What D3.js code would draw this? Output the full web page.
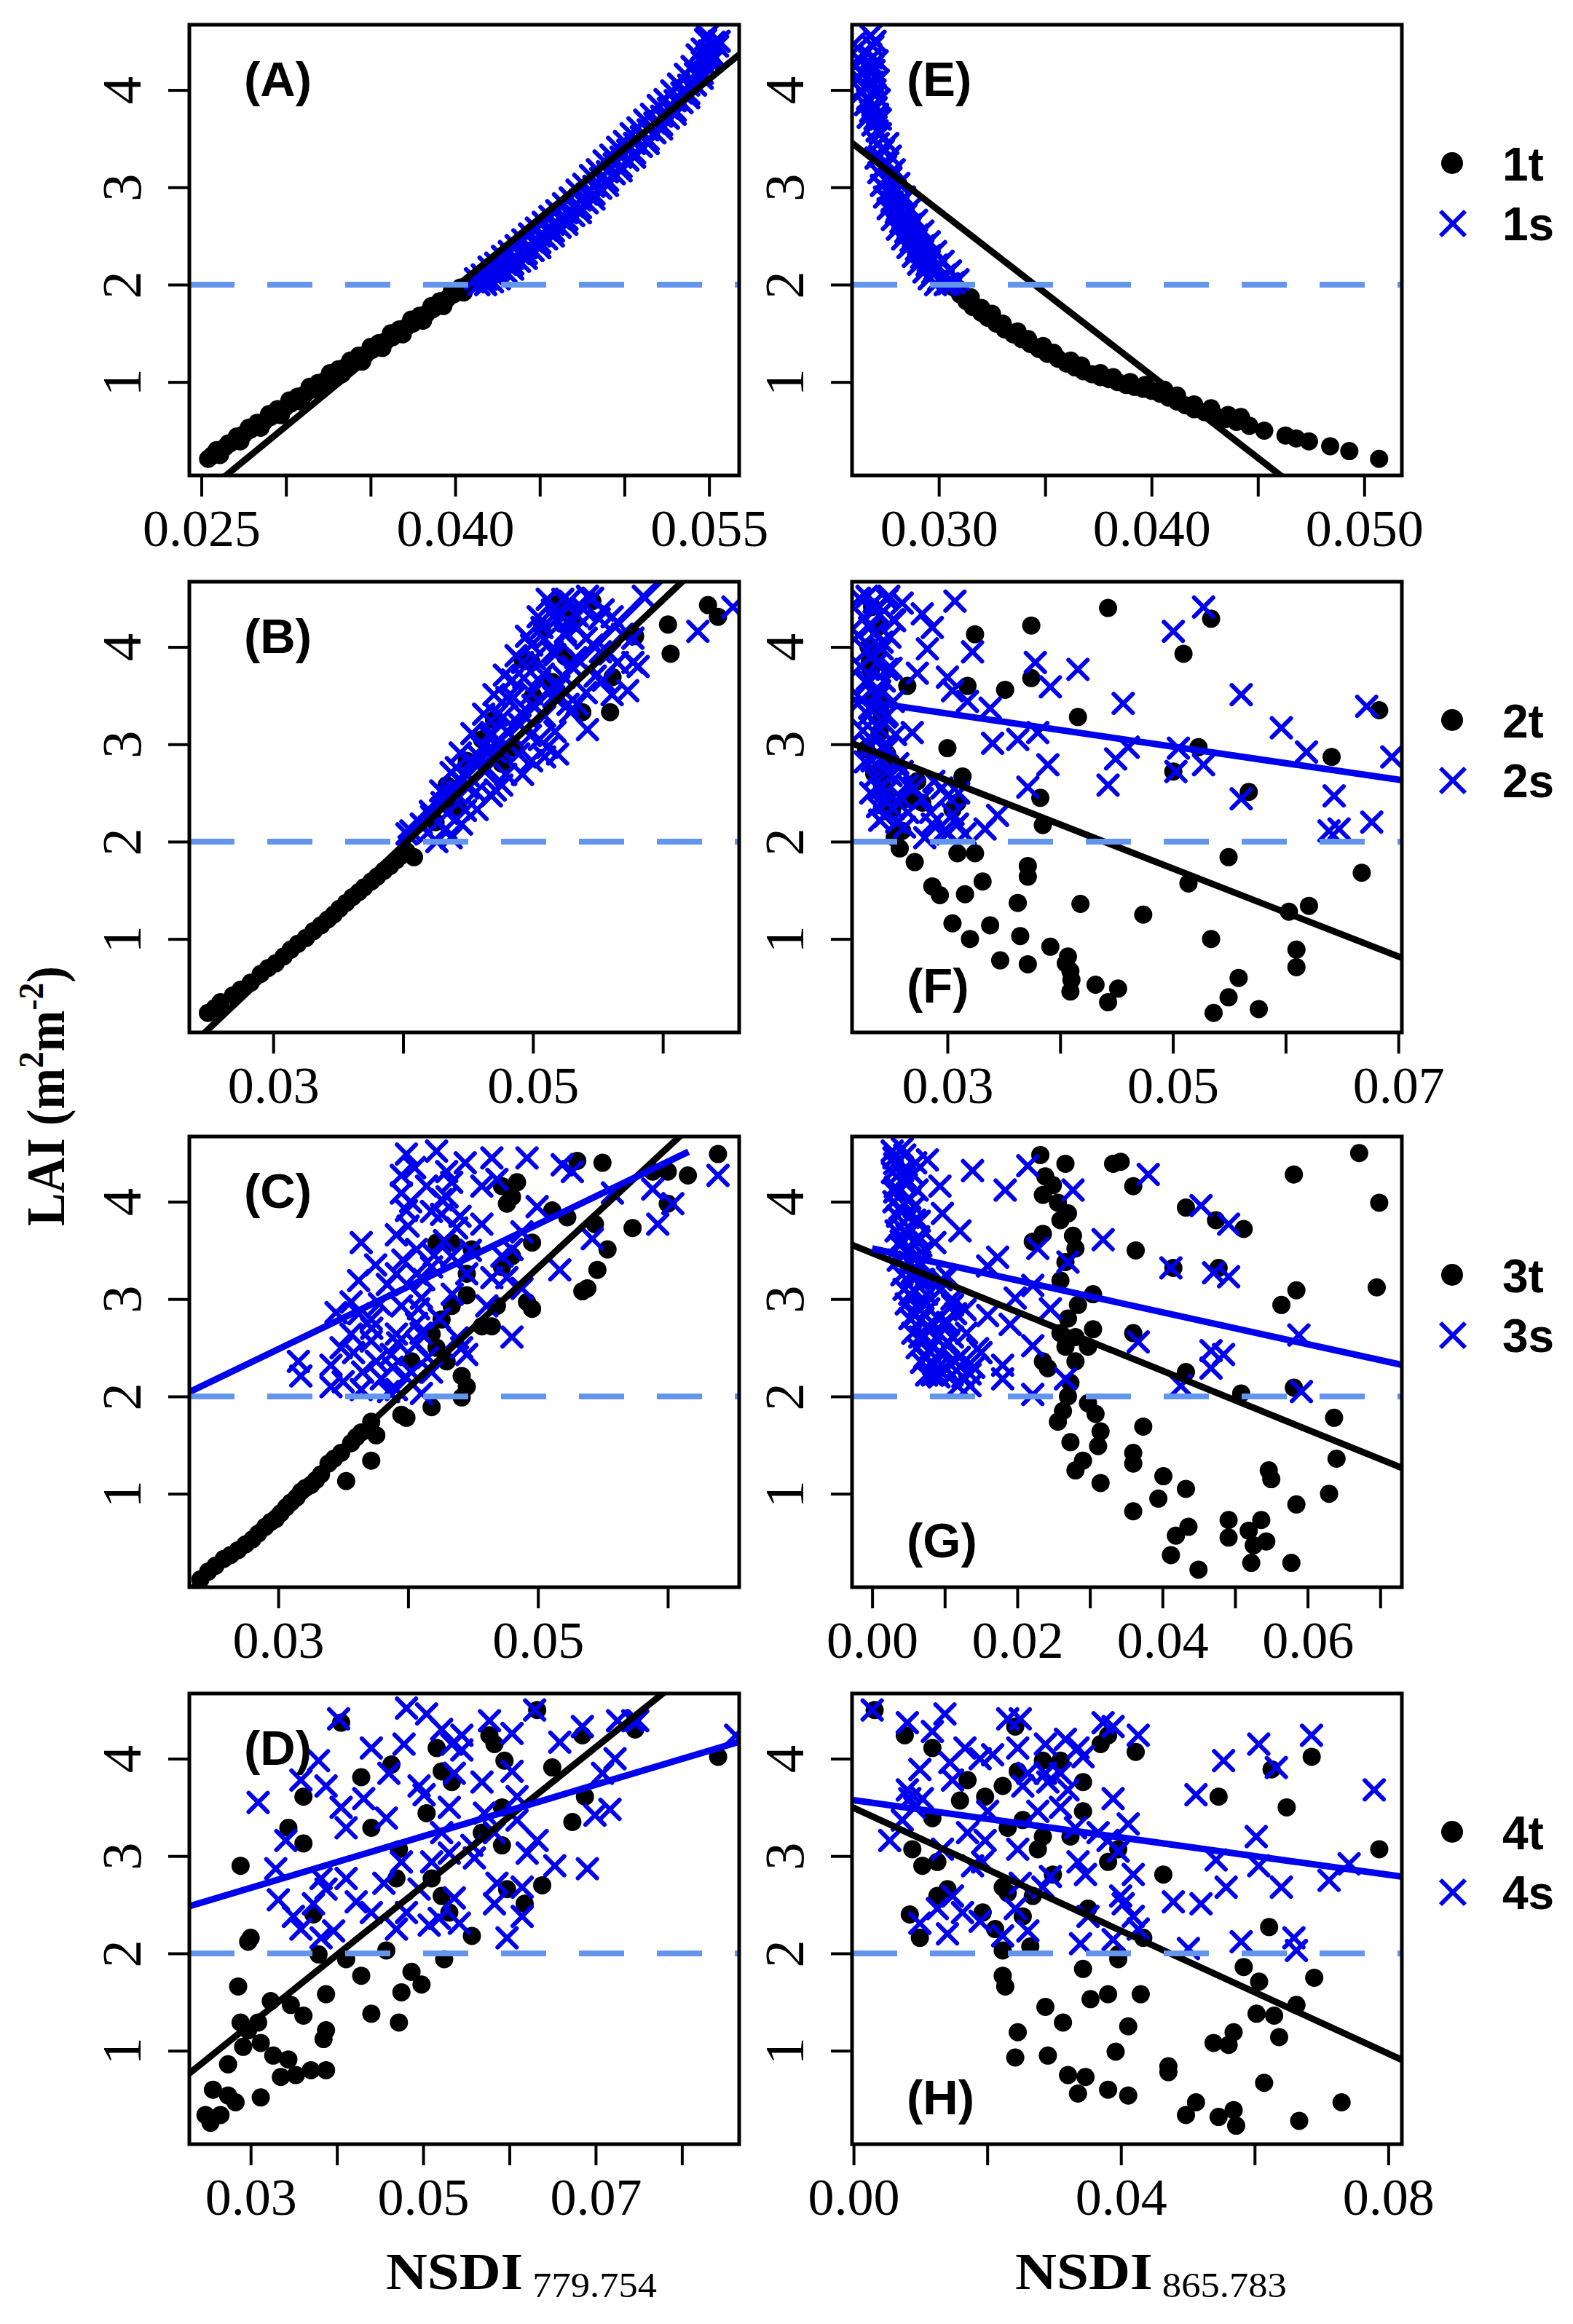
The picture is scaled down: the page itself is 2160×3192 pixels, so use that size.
<!DOCTYPE html>
<html>
<head>
<meta charset="utf-8">
<script src="https://cdn.jsdelivr.net/npm/d3@7"></script>
<style>
  body { margin: 0; background: #fff; }
  svg { display: block; }
</style>
</head>
<body>
<div id="chart"></div>
<script>
// ---------- data ----------
var yDomain = [0.04, 4.67];
var yTicks = [1, 2, 3, 4];
var cutoff = 2;

var legendT = ["1t", "2t", "3t", "4t"];
var legendS = ["1s", "2s", "3s", "4s"];

var xDomA = [0.02429, 0.05678], ticksA = [0.025, 0.030, 0.035, 0.040, 0.045, 0.050, 0.055], labA = ["0.025", "0.040", "0.055"];
var xDomE = [0.02592, 0.05177], ticksE = [0.030, 0.035, 0.040, 0.045, 0.050], labE = ["0.030", "0.040", "0.050"];
var xDomB = [0.02354, 0.06588], ticksB = [0.03, 0.04, 0.05, 0.06], labB = ["0.03", "0.05"];
var xDomF = [0.02154, 0.07031], ticksF = [0.03, 0.04, 0.05, 0.06, 0.07], labF = ["0.03", "0.05", "0.07"];
var xDomC = [0.02315, 0.0655], ticksC = [0.03, 0.04, 0.05, 0.06], labC = ["0.03", "0.05"];
var xDomG = [-0.00277, 0.07298], ticksG = [0, 0.01, 0.02, 0.03, 0.04, 0.05, 0.06, 0.07], labG = ["0.00", "0.02", "0.04", "0.06"];
var xDomD = [0.02289, 0.08664], ticksD = [0.03, 0.04, 0.05, 0.06, 0.07, 0.08], labD = ["0.03", "0.05", "0.07"];
var xDomH = [-0.00023, 0.08203], ticksH = [0, 0.02, 0.04, 0.06, 0.08], labH = ["0.00", "0.04", "0.08"];

// fitted lines: [intercept, slope, xFrom, xTo] (null = whole axis)
var fitA_t = [-3.733, 142.6, null, null];
var fitE_t = [7.848, -169.5, null, null];
var fitB_t = [-3.078, 126.0, null, null], fitB_s = [-3.218, 132.0, 0.0397, null];
var fitF_t = [3.984, -45.2, null, null], fitF_s = [3.826, -17.0, null, null];
var fitC_t = [-2.859, 123.6, null, null], fitC_s = [0.559, 64.2, null, 0.0616];
var fitG_t = [3.473, -30.25, null, null], fitG_s = [3.52, -16.39, 0.0, null];
var fitD_t = [-0.859, 71.08, null, null], fitD_s = [1.879, 26.48, null, null];
var fitH_t = [3.495, -31.56, null, null], fitH_s = [3.574, -9.58, null, null];

var ptsA_t = [[0.0254,0.21],[0.0257,0.25],[0.0260,0.29],[0.0264,0.33],[0.0267,0.37],[0.0271,0.42],[0.0275,0.46],[0.0279,0.51],[0.0283,0.55],[0.0287,0.59],[0.0291,0.64],[0.0295,0.68],[0.0299,0.73],[0.0303,0.78],[0.0307,0.82],[0.0311,0.87],[0.0315,0.92],[0.0319,0.96],[0.0323,1.01],[0.0327,1.05],[0.0331,1.10],[0.0335,1.15],[0.0339,1.19],[0.0343,1.24],[0.0347,1.28],[0.0351,1.33],[0.0355,1.37],[0.0359,1.42],[0.0363,1.46],[0.0367,1.51],[0.0371,1.56],[0.0375,1.60],[0.0379,1.65],[0.0383,1.70],[0.0387,1.75],[0.0391,1.80],[0.0395,1.85],[0.0399,1.90],[0.0403,1.95],[0.0407,1.99],
  [0.0261,0.25],[0.0273,0.39],[0.0285,0.53],[0.0297,0.66],[0.0309,0.80],[0.0321,0.94],[0.0333,1.08],[0.0345,1.21],[0.0357,1.35],[0.0369,1.49],[0.0381,1.63],[0.0393,1.78],[0.0405,1.92],
  [0.0256,0.24],[0.0266,0.37],[0.0278,0.53],[0.0290,0.67],[0.0302,0.81],[0.0314,0.95],[0.0326,1.09],[0.0338,1.22],[0.0350,1.36],[0.0362,1.50],[0.0374,1.64],[0.0386,1.78],[0.0398,1.93],
  [0.0259,0.30],[0.0271,0.44],[0.0283,0.58],[0.0295,0.72],[0.0307,0.85],[0.0319,0.99],[0.0331,1.13],[0.0343,1.27],[0.0355,1.40],[0.0367,1.54],[0.0379,1.68],[0.0391,1.83],[0.0403,1.97]];
var ptsA_s = [[0.0414,2.00],[0.0418,2.05],[0.0422,2.11],[0.0426,2.16],[0.0430,2.21],[0.0434,2.27],[0.0438,2.32],[0.0442,2.38],[0.0446,2.44],[0.0450,2.50],[0.0454,2.56],[0.0458,2.62],[0.0462,2.68],[0.0466,2.74],[0.0470,2.80],[0.0474,2.87],[0.0478,2.93],[0.0482,3.01],[0.0486,3.09],[0.0490,3.16],[0.0494,3.24],[0.0498,3.31],[0.0502,3.38],[0.0506,3.45],[0.0510,3.52],[0.0514,3.59],[0.0518,3.66],[0.0522,3.73],[0.0526,3.81],[0.0530,3.89],[0.0534,3.97],[0.0538,4.05],[0.0542,4.17],[0.0546,4.29],[0.0550,4.40],[0.0553,4.49],
  [0.0422,2.03],[0.0430,2.13],[0.0438,2.24],[0.0446,2.35],[0.0454,2.47],[0.0462,2.59],[0.0470,2.71],[0.0478,2.84],[0.0486,2.99],[0.0494,3.14],[0.0502,3.28],[0.0510,3.42],[0.0518,3.56],[0.0526,3.71],[0.0534,3.87],[0.0542,4.05],[0.0550,4.30],[0.0555,4.45],
  [0.0412,2.06],[0.0420,2.18],[0.0428,2.29],[0.0436,2.40],[0.0444,2.52],[0.0452,2.64],[0.0460,2.76],[0.0468,2.89],[0.0476,3.03],[0.0484,3.18],[0.0492,3.33],[0.0500,3.47],[0.0508,3.61],[0.0516,3.75],[0.0524,3.90],[0.0532,4.06],[0.0540,4.24],[0.0546,4.42],[0.0549,4.56],
  [0.0426,2.10],[0.0434,2.21],[0.0442,2.32],[0.0450,2.43],[0.0458,2.55],[0.0466,2.67],[0.0474,2.79],[0.0482,2.93],[0.0490,3.07],[0.0498,3.21],[0.0506,3.35],[0.0514,3.49],[0.0522,3.64],[0.0530,3.79],[0.0538,3.96],[0.0546,4.17],[0.0552,4.36],
  [0.0418,2.00],[0.0426,2.06],[0.0434,2.16],[0.0442,2.27],[0.0450,2.38],[0.0458,2.50],[0.0466,2.62],[0.0474,2.74],[0.0482,2.88],[0.0490,3.02],[0.0498,3.17],[0.0506,3.31],[0.0514,3.45],[0.0522,3.60],[0.0530,3.75],[0.0538,3.92],[0.0546,4.12],[0.0552,4.30],[0.0556,4.50],
  [0.0416,2.10],[0.0424,2.22],[0.0432,2.34],[0.0440,2.46],[0.0448,2.58],[0.0456,2.70],[0.0464,2.83],[0.0472,2.97],[0.0480,3.12],[0.0488,3.27],[0.0496,3.41],[0.0504,3.55],[0.0512,3.69],[0.0520,3.84],[0.0528,3.99],[0.0536,4.16],[0.0543,4.36],[0.0548,4.52]];

var ptsE_t = [[0.03070,1.97],[0.03100,1.90],[0.03130,1.83],[0.03160,1.77],[0.03200,1.71],[0.03230,1.66],[0.03270,1.60],[0.03310,1.54],[0.03350,1.49],[0.03390,1.44],[0.03430,1.39],[0.03470,1.34],[0.03510,1.29],[0.03560,1.24],[0.03600,1.19],[0.03640,1.15],[0.03680,1.11],[0.03720,1.08],[0.03760,1.05],[0.03800,1.03],[0.03840,1.00],[0.03880,0.97],[0.03920,0.95],[0.03960,0.93],[0.04000,0.91],[0.04040,0.88],[0.04080,0.84],[0.04120,0.80],[0.04160,0.76],[0.04200,0.72],[0.04250,0.69],[0.04300,0.65],[0.04350,0.62],[0.04400,0.59],[0.04460,0.55],[0.04530,0.50],[0.04630,0.45],[0.04680,0.42],[0.04740,0.39],[0.04840,0.34],[0.04930,0.29],[0.05070,0.21],
  [0.03150,1.87],[0.03250,1.70],[0.03370,1.52],[0.03490,1.37],[0.03620,1.22],[0.03760,1.09],[0.03900,1.00],[0.04060,0.92],[0.04200,0.77],[0.04360,0.66],
  [0.03100,1.95],[0.03200,1.76],[0.03300,1.60],[0.03420,1.44],[0.03540,1.30],[0.03670,1.17],[0.03820,1.05],[0.03970,0.97],[0.04120,0.86],[0.04280,0.73],[0.04420,0.64]];
var ptsE_s = [[0.02680,4.56],[0.02690,4.45],[0.02685,4.33],[0.02695,4.20],[0.02690,4.08],[0.02700,3.95],[0.02705,3.82],[0.02700,3.70],[0.02710,3.58],
  [0.02595,4.38],[0.02610,4.25],[0.02625,4.12],[0.02640,3.98],[0.02655,3.85],[0.02668,3.72],
  [0.02715,3.45],[0.02722,3.32],[0.02735,3.20],[0.02748,3.08],[0.02762,2.96],[0.02780,2.85],[0.02800,2.74],[0.02822,2.64],[0.02845,2.54],[0.02870,2.45],[0.02895,2.36],[0.02920,2.28],[0.02945,2.20],[0.02972,2.12],[0.03000,2.05],[0.03030,2.00],
  [0.02740,3.40],[0.02755,3.25],[0.02775,3.10],[0.02795,2.97],[0.02820,2.84],[0.02845,2.72],[0.02870,2.62],[0.02900,2.51],[0.02930,2.40],[0.02960,2.30],[0.02990,2.20],[0.03030,2.10],[0.03070,2.02],
  [0.02705,3.30],[0.02718,3.15],[0.02730,3.02],[0.02745,2.90],[0.02762,2.78],[0.02782,2.67],[0.02805,2.57],[0.02830,2.47],[0.02855,2.38],[0.02880,2.29],[0.02905,2.21],[0.02930,2.13],[0.02955,2.06],[0.02985,2.00],
  [0.02760,3.45],[0.02772,3.32],[0.02790,3.18],[0.02812,3.04],[0.02838,2.90],[0.02865,2.78],[0.02895,2.66],[0.02925,2.55],[0.02955,2.44],[0.02985,2.34],[0.03020,2.24],[0.03055,2.14],[0.03090,2.05],
  [0.02700,4.50],[0.02710,4.30],[0.02715,4.10],[0.02720,3.90],[0.02725,3.70],[0.02600,4.47],[0.02620,4.32],[0.02635,4.18],[0.02650,4.03],[0.02665,3.90],[0.02680,3.78],[0.02690,3.64],
  [0.02690,4.25],[0.02700,4.00],[0.02712,3.75],[0.02725,3.55],[0.02738,3.38],[0.02750,3.22],[0.02765,3.08],[0.02785,2.93],[0.02808,2.80],[0.02832,2.68],[0.02860,2.56],[0.02890,2.45],[0.02920,2.34],[0.02950,2.24],[0.02980,2.15],[0.03010,2.07],[0.03045,2.01]];

var ptsB_t = [[0.02497,0.24],[0.02594,0.35],[0.02690,0.42],[0.02826,0.55],[0.02903,0.64],[0.03019,0.75],[0.03135,0.89],[0.03252,1.01],[0.03368,1.14],[0.03465,1.25],[0.03561,1.37],[0.03658,1.48],[0.03755,1.59],[0.03852,1.70],[0.03948,1.81],[0.04026,1.90],[0.04084,1.84],
  [0.02550,0.29],[0.02750,0.48],[0.02960,0.70],[0.03080,0.82],[0.03190,0.95],[0.03310,1.08],[0.03420,1.20],[0.03510,1.31],[0.03610,1.43],[0.03700,1.53],[0.03800,1.64],[0.03900,1.75],[0.03990,1.86],
  [0.05458,4.47],[0.05787,4.11],[0.0604,4.23],[0.0606,3.93],[0.06348,4.43],[0.06425,4.31],[0.05148,3.64],[0.05613,3.69],[0.05594,3.33],[0.0538,3.33],[0.04858,2.96],[0.04761,2.80],[0.04607,3.05],[0.0449,2.83],[0.04336,2.58],[0.0507,4.20],[0.0499,3.84],[0.0492,3.87],[0.0442,2.35],[0.0425,2.20],[0.0470,3.25],[0.0500,3.50],[0.0525,3.90],[0.0530,4.30],[0.0520,4.45]];
var ptsB_s = [[0.0403,2.08],[0.0414,2.18],[0.0422,2.26],[0.0430,2.40],[0.0437,2.47],[0.0445,2.62],[0.0441,2.76],[0.0453,2.83],[0.0461,2.97],[0.0468,3.12],[0.0472,3.30],[0.0480,3.48],[0.0484,3.66],[0.0492,3.84],[0.0499,4.02],[0.0507,4.20],[0.0515,4.38],[0.0523,4.49],[0.0542,4.52],[0.0554,4.38],[0.0561,4.31],[0.0577,4.09],[0.0585,4.52],[0.0565,3.84],[0.0577,3.84],[0.0581,3.80],[0.0573,3.55],[0.0561,3.51],[0.0542,3.15],[0.0534,3.41],[0.0527,3.41],[0.0519,2.90],[0.0511,2.97],[0.0499,2.83],[0.0492,2.69],[0.0476,2.58],[0.0468,2.47],[0.0457,2.33],[0.0445,2.18],[0.0437,2.04],[0.0426,2.00],[0.0627,4.16],[0.0654,4.41],[0.0546,4.02],[0.0534,4.20],[0.0527,4.27],
  [0.0450,2.55],[0.0465,2.75],[0.0475,2.95],[0.0490,3.20],[0.0500,3.40],[0.0505,3.65],[0.0515,3.95],[0.0525,4.15],[0.0520,3.60],[0.0530,3.80],[0.0548,3.70],[0.0552,3.95],[0.0538,4.40],[0.0505,3.05],
  [0.0406,2.11],[0.0419,2.09],[0.0433,2.13],[0.0421,2.31],[0.0434,2.29],[0.0448,2.32],[0.0429,2.52],[0.0441,2.49],[0.0456,2.51],[0.0471,2.53],[0.0437,2.71],[0.0450,2.68],[0.0463,2.72],[0.0479,2.69],[0.0444,2.91],[0.0458,2.88],[0.0471,2.92],[0.0489,2.90],[0.0509,2.87],[0.0453,3.11],[0.0467,3.08],[0.0481,3.12],[0.0498,3.09],[0.0517,3.13],[0.0462,3.31],[0.0477,3.28],[0.0491,3.32],[0.0509,3.29],[0.0529,3.33],[0.0470,3.51],[0.0485,3.48],[0.0499,3.52],[0.0516,3.49],[0.0541,3.53],[0.0478,3.71],[0.0493,3.68],[0.0508,3.72],[0.0524,3.69],[0.0554,3.66],[0.0487,3.91],[0.0501,3.88],[0.0517,3.92],[0.0533,3.89],[0.0559,3.93],[0.0495,4.11],[0.0509,4.08],[0.0525,4.12],[0.0541,4.09],[0.0569,4.13],[0.0504,4.31],[0.0518,4.28],[0.0534,4.32],[0.0551,4.29],[0.0511,4.49],[0.0528,4.47],[0.0546,4.50]];

var ptsF_t = [[0.04425,4.40],[0.03744,4.22],[0.03245,4.13],[0.05094,3.93],[0.05339,4.29],[0.03744,3.68],[0.03178,3.60],[0.03512,3.56],[0.02644,3.60],[0.04158,3.28],[0.0300,2.96],[0.03134,2.67],[0.03824,2.45],[0.03846,2.17],[0.03089,1.88],[0.03245,1.88],[0.02710,1.79],[0.02577,1.93],[0.02532,2.04],[0.03713,1.75],[0.03713,1.64],[0.05494,1.84],[0.06675,1.68],[0.03312,1.59],[0.02866,1.54],[0.02933,1.45],[0.03156,1.46],[0.03624,1.37],[0.04180,1.36],[0.04737,1.25],[0.05138,1.57],[0.06029,1.28],[0.06207,1.34],[0.03045,1.16],[0.03200,1.00],[0.03379,1.14],[0.03646,1.03],[0.03468,0.78],[0.03713,0.74],[0.03913,0.92],[0.04069,0.82],[0.04091,0.67],[0.04091,0.46],[0.04314,0.53],[0.04514,0.49],[0.04425,0.35],[0.05339,1.00],[0.06096,0.89],[0.06096,0.71],[0.05583,0.60],[0.05494,0.40],[0.05361,0.24],[0.05762,0.28],[0.05227,2.97],[0.06408,2.87],[0.05673,2.51],[0.0683,3.35],[0.05004,2.72],[0.02332,4.41],[0.02376,4.20],[0.02310,3.84],[0.02354,3.48],[0.02399,3.12],[0.02465,2.90],[0.02421,2.58],[0.02510,2.33],[0.02599,2.11],[0.02733,2.62],[0.02777,2.40],[0.02644,2.44],[0.03045,2.33],[0.03089,2.40],[0.0230,4.00],[0.0242,3.30],[0.0246,2.75],[0.0410,0.58],[0.0405,0.75],
  [0.0228,2.95],[0.0235,2.70],[0.0240,3.40],[0.0232,3.75],[0.0245,2.45],[0.0238,3.95]];
var ptsF_s = [[0.02287,4.52],[0.02354,4.38],[0.02465,4.49],[0.02599,4.45],[0.02310,4.20],[0.02421,4.05],[0.02532,4.27],[0.02332,3.91],[0.02465,3.77],[0.02287,3.66],[0.02399,3.55],[0.02310,3.37],[0.02465,3.30],[0.02354,3.12],[0.02421,2.97],[0.02332,2.83],[0.02465,2.72],[0.02399,2.54],[0.02465,2.40],[0.02443,2.26],[0.02599,2.72],[0.02644,2.58],[0.02688,3.12],[0.02777,4.34],[0.02866,4.20],[0.03067,4.47],[0.02822,3.98],[0.02733,3.73],[0.0300,3.69],[0.03045,3.55],[0.03223,3.95],[0.03178,3.44],[0.03379,3.37],[0.03401,3.01],[0.03624,3.05],[0.03780,3.84],[0.03913,3.59],[0.04158,3.77],[0.03891,2.79],[0.03713,2.56],[0.03445,2.27],[0.03334,2.13],[0.02777,2.44],[0.02866,2.18],[0.02799,2.04],[0.0300,2.47],[0.03089,2.18],[0.0300,2.08],[0.03156,2.08],[0.04425,2.58],[0.04492,2.85],[0.04559,3.42],[0.04604,2.97],[0.05027,2.72],[0.05004,4.16],[0.05272,4.41],[0.05049,2.96],[0.05272,2.79],[0.05606,3.51],[0.05606,2.44],[0.05962,3.17],[0.06185,2.92],[0.06430,2.47],[0.06385,2.11],[0.06474,2.13],[0.06764,2.20],[0.06719,3.39],[0.06942,2.87],[0.03802,3.12],
  [0.0222,4.50],[0.0235,4.46],[0.0248,4.52],[0.0226,4.30],[0.0240,4.33],[0.0252,4.28],[0.0221,4.12],[0.0236,4.15],[0.0249,4.10],[0.0228,3.96],[0.0242,3.98],[0.0223,3.80],[0.0237,3.83],[0.0250,3.78],[0.0229,3.62],[0.0244,3.65],[0.0224,3.46],[0.0238,3.48],[0.0252,3.44],[0.0230,3.30],[0.0245,3.28],[0.0225,3.14],[0.0240,3.16],[0.0254,3.10],[0.0232,2.98],[0.0247,2.96],[0.0227,2.82],[0.0242,2.84],[0.0256,2.80],[0.0235,2.66],[0.0250,2.68],[0.0232,2.50],[0.0246,2.52],[0.0258,2.46],[0.0238,2.36],[0.0252,2.34],[0.0240,2.22],[0.0255,2.20],[0.0265,2.30],[0.0270,2.55],[0.0262,2.15],
  [0.0285,2.30],[0.0295,2.55],[0.0288,2.62],[0.0305,2.28],[0.0310,2.50],[0.0298,2.12]];

var ptsC_t = [[0.0240,0.12],[0.02516,0.26],[0.02632,0.37],[0.02748,0.48],[0.02845,0.59],[0.02942,0.71],[0.03019,0.80],[0.03097,0.91],[0.03174,1.02],[0.03252,1.09],[0.03329,1.20],[0.03387,1.31],[0.03484,1.42],[0.03561,1.52],[0.03639,1.63],[0.03716,1.74],[0.03523,1.13],[0.03716,1.34],[0.03755,1.60],[0.0246,0.20],[0.0258,0.33],[0.0269,0.42],[0.0280,0.53],[0.0290,0.66],[0.0298,0.74],[0.0306,0.86],[0.0314,0.96],[0.0321,1.06],[0.0329,1.14],[0.0343,1.36],[0.0360,1.58],
  [0.03948,1.81],[0.03987,1.78],[0.04181,1.89],[0.04413,1.99],[0.04452,2.10],[0.04413,2.21],[0.04297,2.36],[0.04219,2.50],[0.04258,2.79],[0.04336,2.93],[0.04452,3.04],[0.04452,3.26],[0.04490,3.51],[0.04219,3.58],[0.04336,3.58],[0.04568,2.72],[0.04645,2.72],[0.04684,2.93],[0.04723,3.33],[0.04800,3.44],[0.04916,2.97],[0.04955,2.90],[0.04723,4.16],[0.04800,4.05],[0.04839,4.20],[0.04761,3.98],[0.0511,3.91],[0.05226,3.84],[0.05303,4.42],[0.05497,4.40],[0.05342,3.08],[0.05381,3.11],[0.05458,3.30],[0.05536,3.51],[0.05439,3.77],[0.05729,3.73],[0.05884,4.31],[0.0600,4.31],[0.06155,4.27],[0.06387,4.49],[0.0600,3.98],[0.04955,3.58],[0.04181,2.64],[0.04026,2.36]];
var ptsC_s = [[0.03155,2.36],[0.03174,2.21],[0.03406,2.10],[0.03406,2.32],[0.03484,2.50],[0.03561,2.64],[0.03445,2.86],[0.03561,2.97],[0.03619,3.19],[0.03639,3.58],[0.03716,2.79],[0.03716,2.57],[0.03755,2.36],[0.03794,2.18],[0.03639,2.07],[0.03910,2.07],[0.03871,2.43],[0.03910,2.64],[0.03948,2.93],[0.03910,3.26],[0.03910,3.66],[0.03948,4.09],[0.03948,4.27],[0.03987,4.49],[0.03987,3.91],[0.04065,3.51],[0.04065,3.26],[0.04103,3.01],[0.04065,2.75],[0.04065,2.54],[0.04026,2.25],[0.04103,2.03],[0.04142,4.16],[0.04219,4.52],[0.04258,3.87],[0.04258,4.02],[0.04336,4.20],[0.04374,3.73],[0.04181,3.33],[0.04336,3.44],[0.04452,3.26],[0.04568,3.77],[0.04568,4.16],[0.04645,4.45],[0.04645,3.22],[0.04723,3.44],[0.0480,3.51],[0.04877,3.69],[0.04761,3.22],[0.04877,3.11],[0.04606,2.93],[0.0480,2.61],[0.04413,2.50],[0.04452,2.43],[0.04181,2.25],[0.04297,4.31],[0.04684,4.23],[0.04916,4.45],[0.05187,4.38],[0.05265,4.31],[0.05168,3.30],[0.05419,3.62],[0.05574,4.09],[0.05884,4.13],[0.06039,3.98],[0.05923,3.77],[0.06387,4.27],[0.04994,3.95],
  [0.0358,2.45],[0.0365,2.25],[0.0372,2.70],[0.0378,2.95],[0.0384,3.15],[0.0388,2.30],[0.0392,2.55],[0.0396,3.40],[0.0400,3.75],[0.0402,4.00],[0.0405,4.35],[0.0408,2.90],[0.0412,3.20],[0.0415,2.40],[0.0418,3.90],[0.0420,3.45],[0.0424,2.80],[0.0428,3.60],[0.0430,4.05],[0.0434,3.05],[0.0438,2.60],[0.0440,3.85],[0.0444,4.40],[0.0448,3.50],[0.0350,2.15],[0.0362,2.85],[0.0375,3.35],[0.0385,2.05],[0.0398,2.20],[0.0410,2.65]];

var ptsG_t = [[0.02317,4.48],[0.02663,4.39],[0.02386,4.26],[0.02490,4.17],[0.02352,4.07],[0.02559,3.99],[0.02698,3.88],[0.02594,3.81],[0.02352,3.67],[0.02767,3.65],[0.02213,3.59],[0.02801,3.52],[0.02663,3.38],[0.02594,3.19],[0.02836,2.94],[0.03043,3.05],[0.02698,2.80],[0.02594,2.65],[0.02801,2.61],[0.03043,2.69],[0.02974,2.51],[0.02663,2.51],[0.02352,2.36],[0.02421,2.29],[0.02801,2.36],[0.02732,2.14],[0.02698,2.00],[0.02974,1.93],[0.02629,1.85],[0.03078,1.82],[0.02559,1.74],[0.03147,1.64],[0.03735,1.69],[0.02732,1.53],[0.03113,1.49],[0.02905,1.34],[0.02801,1.24],[0.03597,1.42],[0.03597,1.31],[0.03147,1.11],[0.04012,1.18],[0.03943,0.95],[0.04323,1.05],[0.03597,0.82],[0.04358,0.66],[0.04185,0.57],[0.04116,0.37],[0.04496,0.22],[0.04911,0.73],[0.04911,0.55],[0.05188,0.62],[0.05361,0.73],[0.05257,0.47],[0.05223,0.29],[0.05430,0.51],[0.05776,0.29],[0.05464,1.24],[0.05499,1.15],[0.05845,0.89],[0.06295,1.00],[0.06398,1.36],[0.06364,1.78],[0.05638,2.94],[0.05845,3.09],[0.06952,3.12],[0.06986,3.99],[0.06710,4.50],[0.05810,4.28],[0.03320,4.39],[0.03424,4.41],[0.03597,4.16],[0.03631,3.50],[0.04323,3.94],[0.04738,3.81],[0.05119,3.72],[0.04773,3.32],[0.04150,3.32],[0.03597,2.65],[0.04323,2.25],[0.05084,2.03],[0.05810,2.09]];
var ptsG_s = [[0.00277,4.52],[0.00415,4.55],[0.00311,4.39],[0.00450,4.25],[0.00311,4.10],[0.00519,4.03],[0.00380,3.92],[0.00588,3.81],[0.00450,3.70],[0.00623,3.59],[0.00484,3.48],[0.00657,3.38],[0.00553,3.27],[0.00692,3.16],[0.00519,3.05],[0.00726,2.94],[0.00588,2.83],[0.00761,2.72],[0.00657,2.61],[0.0083,2.51],[0.00726,2.40],[0.00899,2.29],[0.0083,2.22],[0.00761,4.43],[0.00934,4.16],[0.01383,4.32],[0.01210,3.70],[0.00865,3.58],[0.01833,4.12],[0.02144,4.37],[0.02767,4.12],[0.03804,4.28],[0.04531,3.96],[0.04911,3.77],[0.03182,3.61],[0.02283,3.52],[0.01729,3.43],[0.01591,3.34],[0.02698,3.38],[0.04116,3.32],[0.04704,3.27],[0.04911,3.23],[0.01971,3.01],[0.02213,3.14],[0.02456,2.90],[0.01280,2.89],[0.01591,2.83],[0.01902,2.74],[0.01038,2.76],[0.01107,2.61],[0.02213,2.52],[0.01453,2.49],[0.03666,2.56],[0.04669,2.47],[0.04842,2.43],[0.04669,2.29],[0.01798,2.32],[0.01141,2.36],[0.00899,2.22],[0.01349,2.23],[0.01798,2.18],[0.01176,2.11],[0.01349,2.11],[0.02663,2.18],[0.02213,2.02],[0.04254,2.11],[0.05914,2.05],[0.05879,2.63],[0.00968,3.88],[0.01038,3.23],[0.00934,3.09],[0.01107,2.94],[0.00400,3.60],[0.00600,3.30],[0.00700,3.00],[0.00800,2.70],
  [0.0030,4.45],[0.0045,4.48],[0.0060,4.40],[0.0028,4.30],[0.0042,4.32],[0.0056,4.28],[0.0032,4.15],[0.0047,4.18],[0.0062,4.12],[0.0030,4.00],[0.0044,3.98],[0.0058,3.95],[0.0035,3.85],[0.0050,3.84],[0.0065,3.80],[0.0033,3.70],[0.0048,3.66],[0.0064,3.64],[0.0038,3.55],[0.0053,3.52],[0.0068,3.48],[0.0036,3.40],[0.0051,3.38],[0.0067,3.35],[0.0041,3.25],[0.0056,3.22],[0.0071,3.20],[0.0044,3.10],[0.0059,3.08],[0.0075,3.05],[0.0047,2.95],[0.0062,2.92],[0.0078,2.90],[0.0052,2.80],[0.0067,2.78],[0.0083,2.76],[0.0056,2.65],[0.0072,2.62],[0.0088,2.60],[0.0062,2.50],[0.0078,2.47],[0.0094,2.45],[0.0068,2.35],[0.0085,2.33],[0.0100,2.30],[0.0075,2.22],[0.0092,2.20],[0.0110,2.22],
  [0.0105,2.55],[0.0120,2.40],[0.0130,2.65],[0.0115,2.85],[0.0140,2.30],[0.0150,2.45],[0.0125,2.20],[0.0098,2.75],[0.0110,3.00],[0.0095,3.20]];

var ptsD_t = [[0.02534,0.26],[0.02650,0.34],[0.02476,0.34],[0.02563,0.60],[0.02738,0.54],[0.02825,0.47],[0.03117,0.52],[0.02738,0.86],[0.02913,1.04],[0.02971,1.21],[0.03087,1.29],[0.02883,1.29],[0.03117,1.08],[0.03262,0.95],[0.03437,0.91],[0.03350,0.73],[0.03524,0.75],[0.03699,0.80],[0.03874,0.80],[0.03874,1.21],[0.03845,1.12],[0.03233,1.51],[0.03466,1.47],[0.03612,1.36],[0.02855,1.66],[0.03874,1.58],[0.04399,1.38],[0.04719,1.29],[0.04748,1.60],[0.04865,1.81],[0.04981,1.68],[0.04282,1.77],[0.04107,1.94],[0.04573,2.03],[0.05244,1.94],[0.05565,2.18],[0.0300,2.16],[0.02971,2.12],[0.02883,2.90],[0.03437,3.29],[0.03612,3.13],[0.03612,3.61],[0.03728,2.40],[0.03787,1.99],[0.04282,3.81],[0.04399,3.29],[0.04632,3.94],[0.04719,3.07],[0.04690,2.77],[0.05040,3.44],[0.05157,4.11],[0.05215,3.87],[0.05332,3.76],[0.05099,2.77],[0.05215,2.59],[0.05303,2.42],[0.05768,4.24],[0.05827,4.15],[0.05943,3.98],[0.05914,3.50],[0.05973,2.66],[0.06177,2.51],[0.06380,2.70],[0.06497,3.91],[0.06846,4.24],[0.06876,3.61],[0.06730,3.35],[0.07458,4.30],[0.08420,4.02],[0.06322,4.50],[0.04049,4.37],[0.05680,3.24],[0.05914,3.11]];
var ptsD_s = [[0.03087,3.55],[0.03291,2.87],[0.03321,2.55],[0.03408,3.16],[0.03583,3.78],[0.03495,2.38],[0.03583,2.25],[0.03787,3.98],[0.03816,2.16],[0.03728,2.51],[0.03874,3.72],[0.03874,2.66],[0.03816,2.77],[0.04020,4.41],[0.04049,3.50],[0.04107,3.29],[0.04107,2.77],[0.03962,2.23],[0.04224,2.53],[0.04311,3.59],[0.04399,4.11],[0.04399,2.42],[0.04573,3.39],[0.04603,3.85],[0.04545,2.72],[0.04690,2.25],[0.04778,4.15],[0.04807,4.52],[0.04748,2.94],[0.04807,2.42],[0.04953,2.66],[0.05040,4.46],[0.04953,3.72],[0.05011,3.63],[0.05070,2.29],[0.05186,2.36],[0.05215,4.30],[0.05303,3.50],[0.05332,4.15],[0.05361,3.85],[0.05215,3.24],[0.05099,2.94],[0.05303,3.03],[0.05361,2.57],[0.05420,2.31],[0.05449,4.09],[0.05449,4.24],[0.05565,3.11],[0.05594,2.98],[0.05682,3.76],[0.05711,3.44],[0.05769,4.39],[0.05827,3.24],[0.05856,2.72],[0.05827,2.51],[0.05973,2.16],[0.06031,4.26],[0.06031,3.87],[0.06089,3.61],[0.06089,3.37],[0.06148,2.68],[0.06148,2.38],[0.06206,3.03],[0.06322,3.16],[0.06293,4.50],[0.06526,2.90],[0.06584,4.17],[0.06846,4.33],[0.06904,2.87],[0.06992,3.42],[0.07080,3.85],[0.07166,3.48],[0.07225,4.00],[0.07254,4.39],[0.07430,4.39],[0.07488,4.39],[0.08624,4.24]];

var ptsH_t = [[0.00315,4.50],[0.00766,4.24],[0.01179,4.11],[0.01592,3.57],[0.01705,3.78],[0.01968,3.61],[0.02231,3.72],[0.01179,3.39],[0.00879,3.07],[0.01029,2.90],[0.01254,2.94],[0.01254,2.59],[0.01405,2.66],[0.00841,2.40],[0.00992,2.16],[0.01931,2.42],[0.02118,2.25],[0.02231,2.68],[0.02306,2.62],[0.02306,3.29],[0.02531,3.37],[0.02419,4.33],[0.02456,3.87],[0.02531,2.38],[0.02682,2.59],[0.02832,3.98],[0.02832,3.20],[0.02757,3.07],[0.02982,2.81],[0.03095,3.98],[0.03245,3.20],[0.03433,3.76],[0.03433,3.46],[0.03508,2.46],[0.03696,4.15],[0.03808,4.24],[0.03808,2.94],[0.04221,4.07],[0.03959,3.07],[0.02231,2.03],[0.02644,2.07],[0.02231,1.77],[0.02269,1.66],[0.03433,1.84],[0.03959,1.94],[0.04334,2.16],[0.02870,1.45],[0.02456,1.19],[0.02419,0.93],[0.02907,0.95],[0.03133,1.29],[0.03545,1.53],[0.03808,1.58],[0.04109,1.25],[0.03921,0.99],[0.04296,1.58],[0.03208,0.75],[0.03470,0.73],[0.03357,0.56],[0.03808,0.60],[0.04109,0.54],[0.04710,0.84],[0.04710,0.78],[0.04973,0.34],[0.05123,0.47],[0.05461,0.32],[0.05686,0.39],[0.05724,0.23],[0.05386,1.08],[0.05611,1.06],[0.05686,1.19],[0.06029,1.38],[0.06292,1.36],[0.06367,1.14],[0.06142,0.67],[0.06667,0.28],[0.07301,0.47],[0.05837,1.86],[0.06067,1.71],[0.06626,1.47],[0.06892,1.75],[0.06217,2.27],[0.04634,2.81],[0.05461,3.61],[0.06254,3.89],[0.06480,3.50],[0.06854,4.02],[0.07865,3.07],[0.03959,1.99]];
var ptsH_s = [[0.00278,4.50],[0.00804,4.37],[0.01179,4.28],[0.01367,4.46],[0.00992,3.89],[0.00804,3.68],[0.00841,3.59],[0.00916,3.50],[0.01029,3.59],[0.00541,3.16],[0.00729,3.37],[0.01442,3.96],[0.01480,3.78],[0.01667,4.11],[0.01893,4.00],[0.02081,4.04],[0.02456,4.11],[0.02306,4.41],[0.02494,4.41],[0.02870,4.15],[0.03170,4.20],[0.03358,4.11],[0.03433,4.02],[0.03733,4.37],[0.03883,4.33],[0.04259,4.24],[0.02532,3.72],[0.02607,3.85],[0.02870,3.85],[0.02907,3.76],[0.03095,3.85],[0.03208,3.68],[0.02757,3.46],[0.03095,3.50],[0.03883,3.59],[0.04109,3.33],[0.03808,3.16],[0.03959,3.05],[0.03658,3.24],[0.03320,3.29],[0.02006,3.46],[0.01705,3.24],[0.01968,3.16],[0.02456,3.07],[0.01330,3.07],[0.01780,2.90],[0.01931,2.94],[0.02494,2.72],[0.02832,2.68],[0.02945,2.79],[0.03358,2.94],[0.03470,2.81],[0.04184,2.81],[0.03996,2.59],[0.04034,2.51],[0.01480,2.59],[0.01254,2.46],[0.01630,2.42],[0.00992,2.31],[0.01405,2.20],[0.01893,2.33],[0.02419,2.46],[0.02231,2.18],[0.02607,2.23],[0.03395,2.10],[0.03508,2.38],[0.03883,2.14],[0.04184,2.38],[0.04259,2.25],[0.04784,2.53],[0.05198,2.51],[0.05010,2.05],[0.05123,3.63],[0.05536,3.98],[0.06024,3.20],[0.06062,4.15],[0.06325,3.91],[0.05424,2.96],[0.05574,2.68],[0.05799,2.12],[0.06062,2.90],[0.06400,2.68],[0.06588,2.16],[0.06626,2.03],[0.06851,4.24],[0.07114,2.75],[0.07414,2.92],[0.07790,3.68]];

// ---------- layout ----------
var width = 2160, height = 3192;
var colLeft = [260, 1170];
var rowTop = [34, 799, 1561, 2326];
var panelW = 755, panelH = 619;

var panels = [
  { id: "A", col: 0, row: 0, xDom: xDomA, ticks: ticksA, labels: labA, t: ptsA_t, s: ptsA_s, fitT: fitA_t, fitS: null, letterTop: true },
  { id: "B", col: 0, row: 1, xDom: xDomB, ticks: ticksB, labels: labB, t: ptsB_t, s: ptsB_s, fitT: fitB_t, fitS: fitB_s, letterTop: true },
  { id: "C", col: 0, row: 2, xDom: xDomC, ticks: ticksC, labels: labC, t: ptsC_t, s: ptsC_s, fitT: fitC_t, fitS: fitC_s, letterTop: true },
  { id: "D", col: 0, row: 3, xDom: xDomD, ticks: ticksD, labels: labD, t: ptsD_t, s: ptsD_s, fitT: fitD_t, fitS: fitD_s, letterTop: true },
  { id: "E", col: 1, row: 0, xDom: xDomE, ticks: ticksE, labels: labE, t: ptsE_t, s: ptsE_s, fitT: fitE_t, fitS: null, letterTop: true },
  { id: "F", col: 1, row: 1, xDom: xDomF, ticks: ticksF, labels: labF, t: ptsF_t, s: ptsF_s, fitT: fitF_t, fitS: fitF_s, letterTop: false },
  { id: "G", col: 1, row: 2, xDom: xDomG, ticks: ticksG, labels: labG, t: ptsG_t, s: ptsG_s, fitT: fitG_t, fitS: fitG_s, letterTop: false },
  { id: "H", col: 1, row: 3, xDom: xDomH, ticks: ticksH, labels: labH, t: ptsH_t, s: ptsH_s, fitT: fitH_t, fitS: fitH_s, letterTop: false }
];

var BLUE = "#0000ee";
var serif = "'Liberation Serif', 'Times New Roman', serif";
var sans = "'Liberation Sans', Arial, sans-serif";

var svg = d3.select("#chart").append("svg")
  .attr("width", width)
  .attr("height", height)
  .attr("viewBox", "0 0 " + width + " " + height);

svg.append("rect").attr("width", width).attr("height", height).attr("fill", "#fff");

var defs = svg.append("defs");

function crossPath(s) {
  return "M" + (-s) + "," + (-s) + "L" + s + "," + s + "M" + (-s) + "," + s + "L" + s + "," + (-s);
}

function drawFit(g, f, x, y, dom, color) {
  if (!f) return;
  var a = f[2] == null ? dom[0] : f[2];
  var b = f[3] == null ? dom[1] : f[3];
  g.append("line")
    .attr("x1", x(a)).attr("y1", y(f[0] + f[1] * a))
    .attr("x2", x(b)).attr("y2", y(f[0] + f[1] * b))
    .attr("stroke", color)
    .attr("stroke-width", 9);
}

panels.forEach(function(p) {
  var left = colLeft[p.col], top = rowTop[p.row];
  var x = d3.scaleLinear().domain(p.xDom).range([left, left + panelW]);
  var y = d3.scaleLinear().domain(yDomain).range([top + panelH, top]);

  var clipId = "clip" + p.id;
  defs.append("clipPath").attr("id", clipId)
    .append("rect")
    .attr("x", left).attr("y", top)
    .attr("width", panelW).attr("height", panelH);

  var g = svg.append("g").attr("class", "panel-" + p.id);
  var plot = g.append("g").attr("clip-path", "url(#" + clipId + ")");

  // "t" points
  plot.selectAll("circle.t")
    .data(p.t)
    .enter()
    .append("circle")
      .attr("class", "t")
      .attr("cx", function(d) { return x(d[0]); })
      .attr("cy", function(d) { return y(d[1]); })
      .attr("r", 12.5)
      .attr("fill", "#000");

  // "s" points
  plot.selectAll("path.s")
    .data(p.s)
    .enter()
    .append("path")
      .attr("class", "s")
      .attr("d", crossPath(13))
      .attr("transform", function(d) { return "translate(" + x(d[0]) + "," + y(d[1]) + ")"; })
      .attr("fill", "none")
      .attr("stroke", BLUE)
      .attr("stroke-width", 6)
      .attr("stroke-linecap", "round");

  drawFit(plot, p.fitT, x, y, p.xDom, "#000");
  drawFit(plot, p.fitS, x, y, p.xDom, BLUE);

  // LAI = 2 cut-off
  plot.append("line")
    .attr("x1", x(p.xDom[0])).attr("x2", x(p.xDom[1]))
    .attr("y1", y(cutoff)).attr("y2", y(cutoff))
    .attr("stroke", "#6495ed")
    .attr("stroke-width", 8)
    .attr("stroke-dasharray", "62,45");

  // box
  g.append("rect")
    .attr("x", left).attr("y", top)
    .attr("width", panelW).attr("height", panelH)
    .attr("fill", "none")
    .attr("stroke", "#000")
    .attr("stroke-width", 5);

  // x axis
  var xAxis = d3.axisBottom(x)
    .tickValues(p.ticks)
    .tickSize(29)
    .tickFormat(function(d) {
      var s = p.labels.find(function(l) { return Math.abs(+l - d) < 1e-9; });
      return s || "";
    });
  var gx = g.append("g")
    .attr("transform", "translate(0," + (top + panelH) + ")")
    .call(xAxis)
    .attr("font-size", null)
    .attr("font-family", null);
  gx.select(".domain").remove();
  gx.selectAll(".tick line").attr("stroke", "#000").attr("stroke-width", 4);
  gx.selectAll(".tick text")
    .attr("y", 97)
    .attr("dy", null)
    .attr("fill", "#000")
    .attr("font-family", serif)
    .attr("font-size", 72);

  // y axis
  var yAxis = d3.axisLeft(y).tickValues(yTicks).tickSize(29).tickFormat(d3.format("d"));
  var gy = g.append("g")
    .attr("transform", "translate(" + left + ",0)")
    .call(yAxis)
    .attr("font-size", null)
    .attr("font-family", null);
  gy.select(".domain").remove();
  gy.selectAll(".tick line").attr("stroke", "#000").attr("stroke-width", 4);
  gy.selectAll(".tick text")
    .attr("x", 0)
    .attr("dy", null)
    .attr("text-anchor", "middle")
    .attr("transform", "translate(-67,0) rotate(-90)")
    .attr("fill", "#000")
    .attr("font-family", serif)
    .attr("font-size", 77);

  // panel letter
  g.append("text")
    .attr("x", left + 75)
    .attr("y", p.letterTop ? top + 98 : top + panelH - 41)
    .attr("font-family", sans)
    .attr("font-weight", "bold")
    .attr("font-size", 67)
    .text("(" + p.id + ")");
});

// legends to the right of the right column
rowTop.forEach(function(top, i) {
  var lg = svg.append("g").attr("class", "legend");
  lg.append("circle")
    .attr("cx", 1994).attr("cy", top + 190)
    .attr("r", 15)
    .attr("fill", "#000");
  lg.append("path")
    .attr("d", crossPath(17))
    .attr("transform", "translate(1995," + (top + 273) + ")")
    .attr("fill", "none")
    .attr("stroke", BLUE)
    .attr("stroke-width", 6);
  lg.append("text")
    .attr("x", 2063).attr("y", top + 214)
    .attr("font-family", sans).attr("font-weight", "bold").attr("font-size", 64)
    .text(legendT[i]);
  lg.append("text")
    .attr("x", 2063).attr("y", top + 296)
    .attr("font-family", sans).attr("font-weight", "bold").attr("font-size", 64)
    .text(legendS[i]);
});

// axis titles, stretched to the measured length in the figure
function xTitle(xStart, xEnd, sub) {
  var t = svg.append("text")
    .attr("font-family", serif)
    .attr("fill", "#000");
  t.append("tspan").attr("font-weight", "bold").attr("font-size", 72).text("NSDI");
  t.append("tspan").attr("font-size", 48).attr("dy", 11).text(" " + sub);
  var k = (xEnd - xStart) / t.node().getComputedTextLength();
  t.attr("transform", "translate(" + xStart + ",3144) scale(" + k + ",1)");
}
xTitle(530, 902, "779.754");
xTitle(1394, 1767, "865.783");

var yt = svg.append("text")
  .attr("font-family", serif)
  .attr("font-weight", "bold")
  .attr("font-size", 73)
  .attr("fill", "#000");
yt.append("tspan").text("LAI (m");
yt.append("tspan").attr("font-size", 49).attr("dy", -29).text("2");
yt.append("tspan").attr("dy", 29).text("m");
yt.append("tspan").attr("font-size", 49).attr("dy", -29).text("-2");
yt.append("tspan").attr("dy", 29).text(")");
var ky = 357 / yt.node().getComputedTextLength();
yt.attr("transform", "translate(88,1684) rotate(-90) scale(" + ky + ",1)");
</script>
</body>
</html>
